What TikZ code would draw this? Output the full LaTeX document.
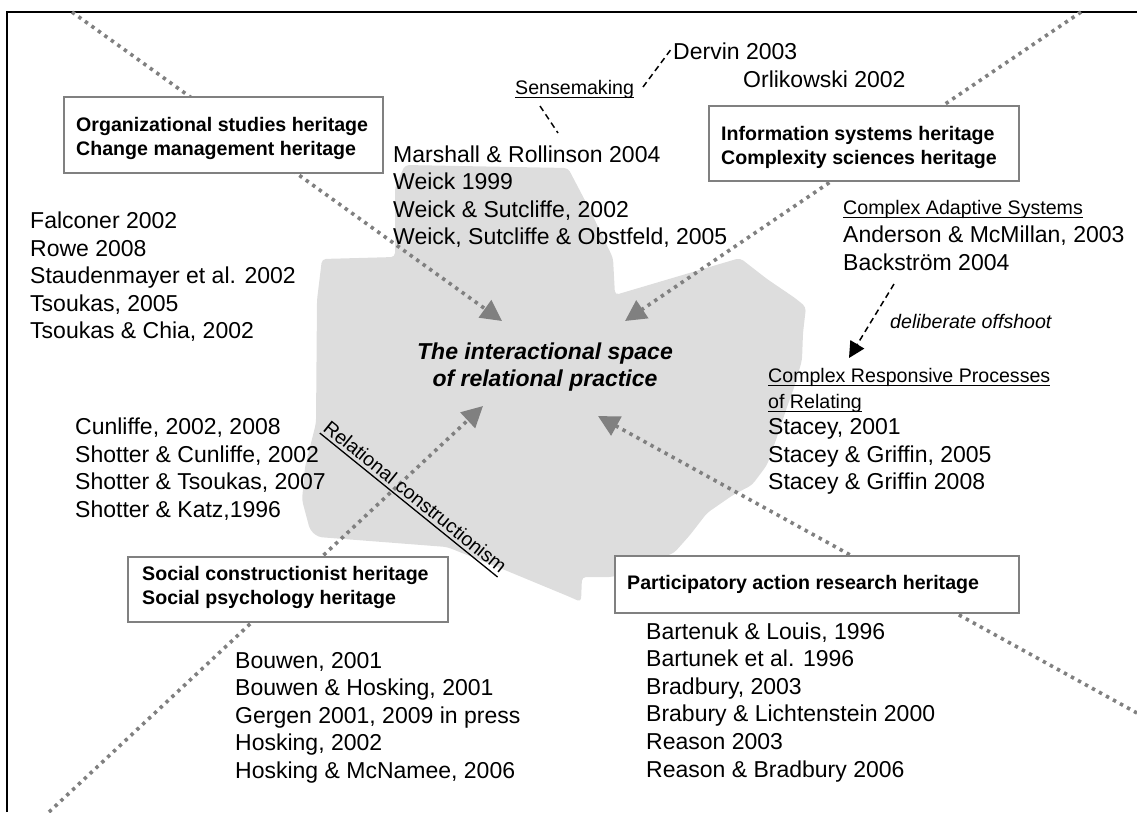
\documentclass[tikz,border=0pt]{standalone}
\usepackage{fontspec}
\setmainfont{Liberation Sans}
\usetikzlibrary{arrows.meta}

\definecolor{linegray}{HTML}{808080}
\definecolor{blobgray}{HTML}{DDDDDD}

% underlined label with a rule of fixed depth and weight
\newsavebox\ulsave
\newcommand\myul[1]{\sbox\ulsave{#1}\rlap{\rule[-4.4pt]{\wd\ulsave}{1.3pt}}\usebox\ulsave}

\tikzset{
  refs/.style={anchor=base west, inner sep=0pt, font=\fontsize{23}{27.6}\selectfont},
  smalltxt/.style={anchor=base west, inner sep=0pt, font=\fontsize{19.6}{23}\selectfont},
  herittxt/.style={anchor=base west, inner sep=0pt, font=\fontsize{19.6}{23}\selectfont\bfseries},
  heritbox/.style={draw=linegray, line width=2.2pt, fill=white, inner sep=0pt, anchor=north west},
  flowline/.style={draw=linegray, line width=3.6pt, dash pattern=on 3.4pt off 4.6pt,
                   -{Triangle[length=21pt,width=21pt]}, color=linegray},
  linkdash/.style={draw=black, line width=1.5pt, dash pattern=on 6pt off 4pt},
}

\begin{document}
\begin{tikzpicture}[x=1pt,y=-1pt]
\useasboundingbox (0,0) rectangle (1137,812);

% shared ground of relational practice
\fill[blobgray, rounded corners=4pt]
  (405,165) -- (568,168) -- (590,210) -- (613,258) -- (615,295) -- (740,258)
  -- (767,279) -- (795,298) -- (806,307) -- (803,333) -- (802,360) -- (795,385)
  -- (787,407) -- (777,437) -- (767,465) -- (752,485) -- (733,495) -- (707,513)
  -- (690,535) -- (674,553) -- (640,565) -- (613,577) -- (582,577) -- (581,602)
  -- (570,597) -- (500,568) -- (447,547) -- (318,537) -- (310,530) -- (302,500)
  -- (305,467) -- (316,423) -- (317,300) -- (322,259) -- (395,257) -- (395,187)
  -- cycle;

% frame
\draw[line width=2pt] (7,812) -- (7,12) -- (1137,12);

% heritage streams converging on the centre
\coordinate (tl) at (72,12);     \coordinate (tlend) at (502,321);
\coordinate (tr) at (1081,12);   \coordinate (trend) at (625,321);
\coordinate (bl) at (49,812);    \coordinate (blend) at (483,406);
\coordinate (br) at (1137,713);  \coordinate (brend) at (598,416);
\draw[flowline] (tl) -- (tlend);
\draw[flowline] (tr) -- (trend);
\draw[flowline] (bl) -- (blend);
\draw[flowline] (br) -- (brend);

% heritage boxes
\node[heritbox, minimum width=319pt, minimum height=76pt] (orgbox) at (63,96) {};
\node[herittxt] (org1) at (76,131) {Organizational studies heritage};
\node[herittxt] (org2) at (76,155) {Change management heritage};

\node[heritbox, minimum width=310pt, minimum height=75pt] (infbox) at (708,105) {};
\node[herittxt] (inf1) at (721,140) {Information systems heritage};
\node[herittxt] (inf2) at (721,164) {Complexity sciences heritage};

\node[heritbox, minimum width=320pt, minimum height=65pt] (socbox) at (127,556) {};
\node[herittxt] (soc1) at (142,580) {Social constructionist heritage};
\node[herittxt] (soc2) at (142,604) {Social psychology heritage};

\node[heritbox, minimum width=404pt, minimum height=57pt] (parbox) at (614,555) {};
\node[herittxt] (par1) at (627,589) {Participatory action research heritage};

% centre
\node[anchor=base, inner sep=0pt, font=\fontsize{23}{27.6}\selectfont\bfseries\itshape]
  (centre1) at (545,359) {The interactional space};
\node[anchor=base, inner sep=0pt, font=\fontsize{23}{27.6}\selectfont\bfseries\itshape]
  (centre2) at (545,386) {of relational practice};

% sensemaking
\node[smalltxt] (sense) at (515,94) {\myul{Sensemaking}};
\node[refs] (dervin) at (673,59) {Dervin 2003};
\node[refs] (orlik) at (743,87) {Orlikowski 2002};
\coordinate (senseA) at (643,87);  \coordinate (dervinA) at (672,48);
\coordinate (senseB) at (540,106); \coordinate (weickA) at (558,133);
\draw[linkdash] (senseA) -- (dervinA);
\draw[linkdash] (senseB) -- (weickA);

\foreach \t [count=\i] in {Marshall \& Rollinson 2004, Weick 1999,
    {Weick \& Sutcliffe, 2002}, {Weick, Sutcliffe \& Obstfeld, 2005}}
  \node[refs] (weick\i) at (393,{162+27.6*(\i-1)}) {\t};

% organizational studies references
\foreach \t [count=\i] in {Falconer 2002, Rowe 2008, Staudenmayer et al. 2002,
    {Tsoukas, 2005}, {Tsoukas \& Chia, 2002}}
  \node[refs] (falc\i) at (30,{228.5+27.6*(\i-1)}) {\t};

% complexity
\node[smalltxt] (cas) at (843,214) {\myul{Complex Adaptive Systems}};
\node[refs] (anders) at (843,242.4) {Anderson \& McMillan, 2003};
\node[refs] (backs) at (843,270) {Backström 2004};
\coordinate (offA) at (894,284); \coordinate (offB) at (849,358);
\draw[linkdash, -{Triangle[length=16pt,width=16pt]}] (offA) -- (offB);
\node[smalltxt, font=\fontsize{19.6}{23}\selectfont\itshape] (offshoot) at (890,328) {deliberate offshoot};

\node[smalltxt] (crp1) at (768,382) {\myul{Complex Responsive Processes}};
\node[smalltxt] (crp2) at (768,408) {\myul{of Relating}};
\foreach \t [count=\i] in {{Stacey, 2001}, {Stacey \& Griffin, 2005}, Stacey \& Griffin 2008}
  \node[refs] (stacey\i) at (768,{434.5+27.6*(\i-1)}) {\t};

% social constructionism
\foreach \t [count=\i] in {{Cunliffe, 2002, 2008}, {Shotter \& Cunliffe, 2002},
    {Shotter \& Tsoukas, 2007}, {Shotter \& Katz,1996}}
  \node[refs] (cun\i) at (75,{434.5+27.6*(\i-1)}) {\t};

\node[smalltxt, rotate=-39] (relcon) at (322,430) {\myul{Relational constructionism}};

\foreach \t [count=\i] in {{Bouwen, 2001}, {Bouwen \& Hosking, 2001},
    {Gergen 2001, 2009 in press}, {Hosking, 2002}, {Hosking \& McNamee, 2006}}
  \node[refs] (bouw\i) at (235,{668+27.6*(\i-1)}) {\t};

% action research
\foreach \t [count=\i] in {{Bartenuk \& Louis, 1996}, Bartunek et al. 1996,
    {Bradbury, 2003}, Brabury \& Lichtenstein 2000, Reason 2003, Reason \& Bradbury 2006}
  \node[refs] (bart\i) at (646,{639+27.6*(\i-1)}) {\t};
\end{tikzpicture}
\end{document}
